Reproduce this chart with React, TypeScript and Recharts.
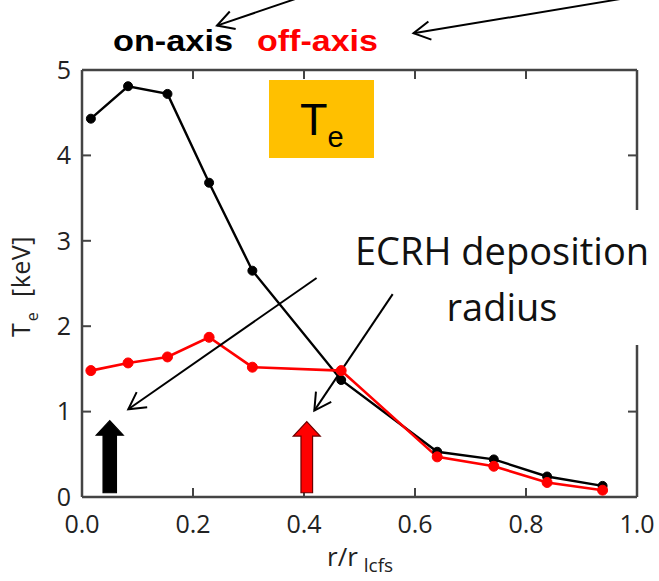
import React from 'react';
import { LineChart, Line, XAxis, YAxis, ReferenceLine } from 'recharts';

// normalized radius r / r_lcfs
const radius = [0.016, 0.083, 0.154, 0.229, 0.307, 0.467, 0.64, 0.742, 0.838, 0.938];
// Te [keV]
const onAxisTe = [4.43, 4.81, 4.72, 3.68, 2.65, 1.37, 0.53, 0.44, 0.24, 0.13];
const offAxisTe = [1.48, 1.57, 1.64, 1.87, 1.52, 1.48, 0.47, 0.36, 0.17, 0.08];

const xTicks = [0, 0.2, 0.4, 0.6, 0.8, 1.0];
const yTicks = [0, 1, 2, 3, 4, 5];
const xInnerTicks = [0.2, 0.4, 0.6, 0.8];
const yInnerTicks = [1, 2, 3, 4];

// ECRH deposition radii (block arrows)
const onAxisDeposition = 0.05;
const offAxisDeposition = 0.405;

// annotation arrows in data coordinates [x, y]
const annotationArrows = [
  { from: [0.4227, 2.564], to: [0.0834, 1.028] },
  { from: [0.5598, 2.376], to: [0.4186, 1.012] },
  { from: [0.3838, 5.83], to: [0.2432, 5.52] },
  { from: [0.9694, 5.83], to: [0.5973, 5.43] },
];

const data = radius.map((r, i) => ({ r, on: onAxisTe[i], off: offAxisTe[i] }));

const AXIS_COLOR = '#444';
const TICK_FONT = '"Open Sans", sans-serif';
// inward tick length in data units (about 9 px)
const X_TICK_LEN = 0.105;
const Y_TICK_LEN = 0.0162;

const BottomTick = (props: any) => {
  const { x, y, payload } = props;
  const v = payload.value;
  return (
    <text x={x} y={y + 36} textAnchor="middle" fontSize={25} fontFamily={TICK_FONT} fill="#222">
      {v.toFixed(1)}
    </text>
  );
};

const LeftTick = (props: any) => {
  const { x, y, payload } = props;
  const v = payload.value;
  return (
    <text x={x - 11} y={y} dy="0.35em" textAnchor="end" fontSize={25} fontFamily={TICK_FONT} fill="#222">
      {v}
    </text>
  );
};

const LineArrow = (p: any) => {
  const { x1, y1, x2, y2 } = p;
  const ang = Math.atan2(y1 - y2, x1 - x2);
  const L = 19;
  const a = (29 * Math.PI) / 180;
  const ax1 = x2 + L * Math.cos(ang + a);
  const ay1 = y2 + L * Math.sin(ang + a);
  const ax2 = x2 + L * Math.cos(ang - a);
  const ay2 = y2 + L * Math.sin(ang - a);
  return (
    <g>
      <line x1={x1} y1={y1} x2={x2} y2={y2} stroke="#000" strokeWidth={2} />
      <polyline points={`${ax1},${ay1} ${x2},${y2} ${ax2},${ay2}`} fill="none" stroke="#000" strokeWidth={2} />
    </g>
  );
};

const TickShape = (p: any) => {
  const { x1, y1, x2, y2 } = p;
  return <line x1={x1} y1={y1} x2={x2} y2={y2} stroke={AXIS_COLOR} strokeWidth={2} />;
};

const makeBlockArrow = (fill: string, stroke: string, shaftHalf: number) => (p: any) => {
  const { x1, y1, y2 } = p;
  const cx = x1;
  const bottom = y1;
  const tip = y2;
  const hl = 14.5;
  const hw = 13.5;
  const pts = [
    [cx - shaftHalf, bottom],
    [cx - shaftHalf, tip + hl],
    [cx - hw, tip + hl],
    [cx, tip],
    [cx + hw, tip + hl],
    [cx + shaftHalf, tip + hl],
    [cx + shaftHalf, bottom],
  ]
    .map((q) => q.join(','))
    .join(' ');
  return <polygon points={pts} fill={fill} stroke={stroke} strokeWidth={1.2} strokeLinejoin="miter" />;
};

export default function App() {
  return (
    <div style={{ position: 'absolute', left: 0, top: 0, width: 659, height: 581, background: '#fff' }}>
      <LineChart
        width={659}
        height={581}
        data={data}
        margin={{ top: 69, right: 21, bottom: 83, left: 81 }}
      >
        <XAxis
          xAxisId="b"
          type="number"
          dataKey="r"
          domain={[0, 1]}
          ticks={xTicks}
          interval={0}
          orientation="bottom"
          height={1}
          tickSize={0}
          tickMargin={0}
          tickLine={false}
          tick={<BottomTick />}
          axisLine={{ stroke: AXIS_COLOR, strokeWidth: 2.5 }}
        />
        <XAxis
          xAxisId="t"
          type="number"
          dataKey="r"
          domain={[0, 1]}
          ticks={xTicks}
          orientation="top"
          height={1}
          tickSize={0}
          tickLine={false}
          tick={false}
          axisLine={{ stroke: AXIS_COLOR, strokeWidth: 2.5 }}
        />
        <YAxis
          yAxisId="l"
          type="number"
          domain={[0, 5]}
          ticks={yTicks}
          interval={0}
          orientation="left"
          width={1}
          tickSize={0}
          tickMargin={0}
          tickLine={false}
          tick={<LeftTick />}
          axisLine={{ stroke: AXIS_COLOR, strokeWidth: 2.5 }}
        />
        <YAxis
          yAxisId="r"
          type="number"
          domain={[0, 5]}
          ticks={yTicks}
          orientation="right"
          width={1}
          tickSize={0}
          tickLine={false}
          tick={false}
          axisLine={{ stroke: AXIS_COLOR, strokeWidth: 2.5 }}
        />
        {xInnerTicks.map((t) => (
          <ReferenceLine
            key={'xb' + t}
            xAxisId="b"
            yAxisId="l"
            ifOverflow="visible"
            segment={[{ x: t, y: 0 }, { x: t, y: X_TICK_LEN }]}
            shape={TickShape}
          />
        ))}
        {xInnerTicks.map((t) => (
          <ReferenceLine
            key={'xt' + t}
            xAxisId="b"
            yAxisId="l"
            ifOverflow="visible"
            segment={[{ x: t, y: 5 }, { x: t, y: 5 - X_TICK_LEN }]}
            shape={TickShape}
          />
        ))}
        {yInnerTicks.map((t) => (
          <ReferenceLine
            key={'yl' + t}
            xAxisId="b"
            yAxisId="l"
            ifOverflow="visible"
            segment={[{ x: 0, y: t }, { x: Y_TICK_LEN, y: t }]}
            shape={TickShape}
          />
        ))}
        {yInnerTicks.map((t) => (
          <ReferenceLine
            key={'yr' + t}
            xAxisId="b"
            yAxisId="l"
            ifOverflow="visible"
            segment={[{ x: 1, y: t }, { x: 1 - Y_TICK_LEN, y: t }]}
            shape={TickShape}
          />
        ))}
        <Line
          xAxisId="b"
          yAxisId="l"
          type="linear"
          dataKey="on"
          stroke="#000"
          strokeWidth={2.4}
          dot={{ r: 4.5, fill: '#000', stroke: '#000', strokeWidth: 1 }}
          isAnimationActive={false}
        />
        <Line
          xAxisId="b"
          yAxisId="l"
          type="linear"
          dataKey="off"
          stroke="#ff0000"
          strokeWidth={2.6}
          dot={{ r: 5, fill: '#ff0000', stroke: '#ff0000', strokeWidth: 1 }}
          isAnimationActive={false}
        />
        <ReferenceLine
          xAxisId="b"
          yAxisId="l"
          ifOverflow="visible"
          segment={[{ x: onAxisDeposition, y: 0.05 }, { x: onAxisDeposition, y: 0.894 }]}
          shape={makeBlockArrow('#000', '#000', 6.7)}
        />
        <ReferenceLine
          xAxisId="b"
          yAxisId="l"
          ifOverflow="visible"
          segment={[{ x: offAxisDeposition, y: 0.05 }, { x: offAxisDeposition, y: 0.883 }]}
          shape={makeBlockArrow('#ff0000', '#6a0000', 5.8)}
        />
        {annotationArrows.map((a, i) => (
          <ReferenceLine
            key={i}
            xAxisId="b"
            yAxisId="l"
            ifOverflow="visible"
            segment={[{ x: a.from[0], y: a.from[1] }, { x: a.to[0], y: a.to[1] }]}
            shape={LineArrow}
          />
        ))}
      </LineChart>
      <svg
        width={659}
        height={581}
        style={{ position: 'absolute', left: 0, top: 0, pointerEvents: 'none' }}
      >
        {/* white background of the ECRH label hides part of the right frame */}
        <rect x={622} y={210} width={37} height={135} fill="#fff" />
        <text x={502} y={265} textAnchor="middle" fontSize={38} fontFamily={TICK_FONT} fill="#111">
          ECRH deposition
        </text>
        <text x={502} y={320.7} textAnchor="middle" fontSize={38} fontFamily={TICK_FONT} fill="#111">
          radius
        </text>
        {/* Te box */}
        <rect x={269} y={80} width={105} height={78} fill="#ffc000" />
        <text x={300} y={135} fontSize={45} fontFamily='"Liberation Sans", Arial, sans-serif' fill="#000">
          T
          <tspan fontSize={29} dy={12}>
            e
          </tspan>
        </text>
        {/* legend words */}
        <text
          x={113}
          y={51}
          fontSize={30}
          fontWeight="bold"
          fontFamily='"Liberation Sans", Arial, sans-serif'
          fill="#000"
          textLength={120}
          lengthAdjust="spacingAndGlyphs"
        >
          on-axis
        </text>
        <text
          x={257}
          y={51}
          fontSize={30}
          fontWeight="bold"
          fontFamily='"Liberation Sans", Arial, sans-serif'
          fill="#ff0000"
          textLength={121}
          lengthAdjust="spacingAndGlyphs"
        >
          off-axis
        </text>
        {/* x-axis title */}
        <text x={327} y={566} fontSize={26} fontFamily={TICK_FONT} fill="#222">
          r/r
          <tspan fontSize={19} dx={6} dy={6}>
            lcfs
          </tspan>
        </text>
        {/* y-axis title */}
        <g transform="translate(30, 337) rotate(-90)">
          <text x={0} y={0} fontSize={25} fontFamily={TICK_FONT} fill="#222">
            T
            <tspan fontSize={16} dx={2} dy={8}>
              e
            </tspan>
            <tspan x={40} dy={-8} letterSpacing={0.5}>
              [keV]
            </tspan>
          </text>
        </g>
      </svg>
    </div>
  );
}
